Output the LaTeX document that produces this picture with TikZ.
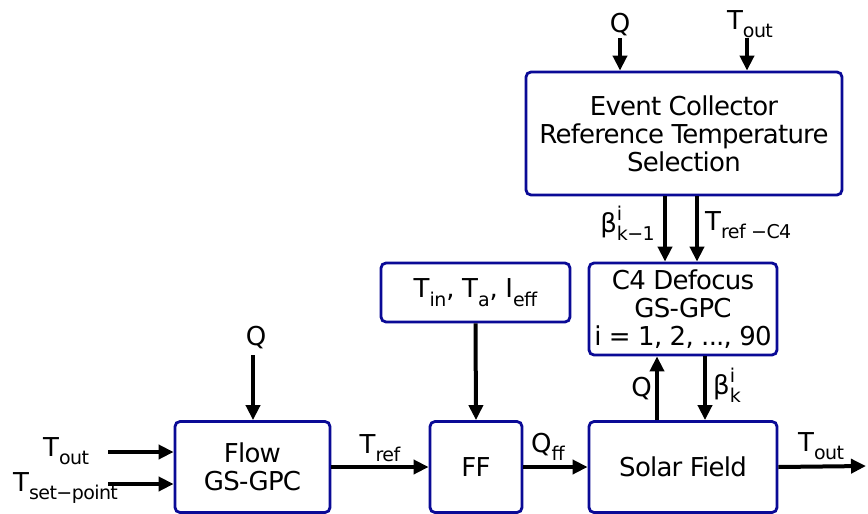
\documentclass[tikz,border=0pt]{standalone}
\usepackage{fontspec}
\setmainfont[LetterSpace=-3]{DejaVu Sans}
\usetikzlibrary{arrows.meta}
\definecolor{boxblue}{RGB}{10,10,150}
\newcommand\lo[1]{\raisebox{-0.32em}{\fontsize{19}{19}\selectfont #1}}
\newcommand\hilo[2]{\rlap{\raisebox{0.45em}{\fontsize{19}{19}\selectfont #1}}\raisebox{-0.32em}{\fontsize{19}{19}\selectfont #2}}
\begin{document}
\begin{tikzpicture}[x=1pt,y=-1pt,
  blk/.style={draw=boxblue, line width=2.8pt, rounded corners=5pt, align=center,
    font=\fontsize{26}{28}\selectfont, inner sep=0pt},
  arr/.style={line width=4pt, -{Triangle[length=15pt,width=14pt]}},
  lbl/.style={font=\fontsize{26}{28}\selectfont, inner sep=0pt}]
\useasboundingbox[fill=white] (0,0) rectangle (868,514);
% blocks
\node[blk, minimum width=316pt, minimum height=123pt] (ec) at (684,133.5)
  {Event Collector\\Reference Temperature\\Selection};
\node[blk, minimum width=188pt, minimum height=92pt] (c4) at (683,309)
  {C4 Defocus\\GS-GPC\\i = 1, 2, ..., 90};
\node[blk, minimum width=189pt, minimum height=59pt] (tin) at (475.5,292.5)
  {T\lo{in}, T\lo{a}, I\lo{eff}};
\node[blk, minimum width=155pt, minimum height=91pt] (flow) at (252.5,467)
  {Flow\\GS-GPC};
\node[blk, minimum width=92pt, minimum height=91pt] (ff) at (476,467) {FF};
\node[blk, minimum width=188pt, minimum height=91pt] (sf) at (683,467) {Solar Field};
% helper coordinates
\coordinate (xq) at (620,38);
\coordinate (xt) at (747,38);
\coordinate (xb1) at (665,0);
\coordinate (xtr) at (697,0);
\coordinate (xqu) at (657,0);
\coordinate (xbk) at (705,0);
\coordinate (xfq) at (253,355);
\coordinate (tin1) at (108,452);
\coordinate (tin2) at (108,484);
\coordinate (xout) at (866,466);
% labels
\node[lbl, anchor=base] (lq) at (620,32) {Q};
\node[lbl, anchor=base] (lt) at (750,29) {T\lo{out}};
\node[lbl, anchor=base east] (lb1) at (655,232) {β\hilo{i}{k−1}};
\node[lbl, anchor=base west] (ltr) at (705,230) {T\lo{ref −C4}};
\node[lbl, anchor=base east] (lqu) at (652,396) {Q};
\node[lbl, anchor=base west] (lbk) at (713,394) {β\hilo{i}{k}};
\node[lbl, anchor=base] (lqf) at (256,345) {Q};
\node[lbl, anchor=base west] (lto) at (43,456) {T\lo{out}};
\node[lbl, anchor=base west] (lts) at (13,491) {T\lo{set−point}};
\node[lbl, anchor=base] (ltref) at (380,453) {T\lo{ref}};
\node[lbl, anchor=base west] (lqff) at (531,452) {Q\lo{ff}};
\node[lbl, anchor=base west] (ltout) at (798,451) {T\lo{out}};
% arrows
\draw[arr] (xq) -- (xq |- ec.north);
\draw[arr] (xt) -- (xt |- ec.north);
\draw[arr] (ec.south -| xb1) -- (c4.north -| xb1);
\draw[arr] (ec.south -| xtr) -- (c4.north -| xtr);
\draw[arr] (sf.north -| xqu) -- (c4.south -| xqu);
\draw[arr] (c4.south -| xbk) -- (sf.north -| xbk);
\draw[arr] (tin.south) -- (ff.north);
\draw[arr] (xfq) -- (xfq |- flow.north);
\draw[arr] (tin1) -- (tin1 -| flow.west);
\draw[arr] (tin2) -- (tin2 -| flow.west);
\draw[arr] (flow.east) -- (ff.west);
\draw[arr] (ff.east) -- (sf.west);
\draw[arr] (sf.east) -- (xout);
\end{tikzpicture}
\end{document}
